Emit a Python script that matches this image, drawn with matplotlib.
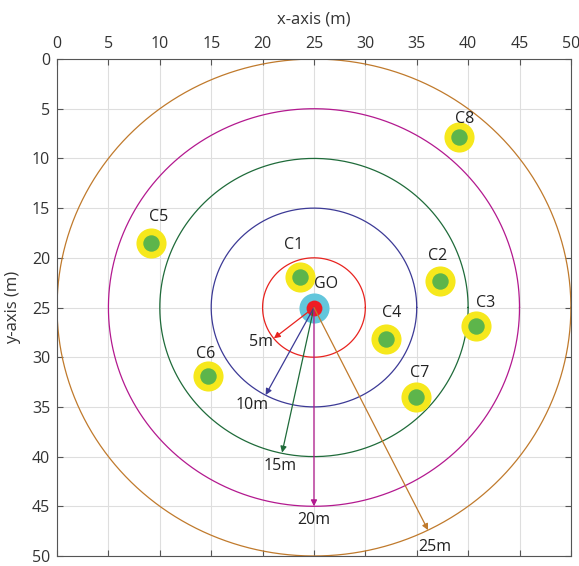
import matplotlib
matplotlib.use("Agg")
import matplotlib.pyplot as plt
import numpy as np

plt.rcParams['font.family'] = ['Open Sans', 'DejaVu Sans']

# cluster heads
names = ['C1', 'C2', 'C3', 'C4', 'C5', 'C6', 'C7', 'C8']
xs = [23.6, 37.3, 40.8, 32.0, 9.1, 14.7, 34.9, 39.1]
ys = [21.9, 22.3, 26.9, 28.2, 18.5, 31.9, 34.0, 7.8]
# label offsets in points
lab_dx = [-4, -2, 7, 4, 6, -2, 3, 4]
lab_dy = [23, 18, 17, 19, 19, 16, 17, 13]

# GO in the middle
go_x, go_y = 25, 25

# ranges
radii = [5, 10, 15, 20, 25]
ring_cols = ['#e8231f', '#3c3a96', '#1f6b3a', '#b3198f', '#c07a2c']
# where each arrow ends (x, y) and its text
arr_end_x = [21.1, 20.3, 21.9, 25.0, 36.1]
arr_end_y = [28.1, 33.8, 39.6, 45.0, 47.4]
arr_txt_x = [19.8, 19.0, 21.7, 25.0, 36.8]
arr_txt_y = [28.5, 34.8, 40.9, 46.4, 49.1]
arr_txt = ['5m', '10m', '15m', '20m', '25m']

fig = plt.figure(figsize=(5.79, 5.66), dpi=100)
ax = fig.add_axes([0.0985, 0.0177, 0.8875, 0.878])

t = np.linspace(0, 2 * np.pi, 400)
for r, c in zip(radii, ring_cols):
    ax.plot(go_x + r * np.cos(t), go_y + r * np.sin(t), color=c, lw=0.9, zorder=2)

ax.scatter(xs, ys, s=470, color='#f6e81c', zorder=3, linewidths=0)
ax.scatter(xs, ys, s=140, color='#5db54b', zorder=4, linewidths=0)
for n, x, y, dx, dy in zip(names, xs, ys, lab_dx, lab_dy):
    ax.annotate(n, (x, y), xytext=(dx, dy), textcoords='offset points',
                ha='center', va='center', fontsize=11.5, color='#222222')

ax.scatter([go_x], [go_y], s=470, color='#63c6dc', zorder=3, linewidths=0)
ax.scatter([go_x], [go_y], s=130, color='#ee1c24', zorder=4, linewidths=0)
ax.annotate('GO', (go_x, go_y), xytext=(9, 17), textcoords='offset points',
            ha='center', va='center', fontsize=11.5, color='#222222')

for ex, ey, tx, ty, s, c in zip(arr_end_x, arr_end_y, arr_txt_x, arr_txt_y, arr_txt, ring_cols):
    ax.annotate('', xy=(ex, ey), xytext=(go_x, go_y),
                arrowprops=dict(arrowstyle='-|>', color=c, lw=0.9,
                                mutation_scale=9, shrinkA=0, shrinkB=0),
                zorder=5)
    ax.text(tx, ty, s, ha='center', va='center', fontsize=11.5, color='#222222', zorder=6)

ax.set_xlim(0, 50)
ax.set_ylim(50, 0)
ax.set_xticks(range(0, 51, 5))
ax.set_yticks(range(0, 51, 5))
ax.xaxis.tick_top()
ax.xaxis.set_label_position('top')
ax.set_xlabel('x-axis (m)', fontsize=12, color='#333333', labelpad=9)
ax.set_ylabel('y-axis (m)', fontsize=12, color='#333333', labelpad=8)
ax.tick_params(direction='in', colors='#555555', labelcolor='#333333', labelsize=11.5,
               top=True, bottom=True, left=True, right=True, length=4, pad=5)
ax.grid(True, color='#dedede', lw=0.8, zorder=0)
ax.set_axisbelow(True)
for sp in ax.spines.values():
    sp.set_color('#555555')
    sp.set_linewidth(0.8)

fig.savefig('out.png', dpi=100)
